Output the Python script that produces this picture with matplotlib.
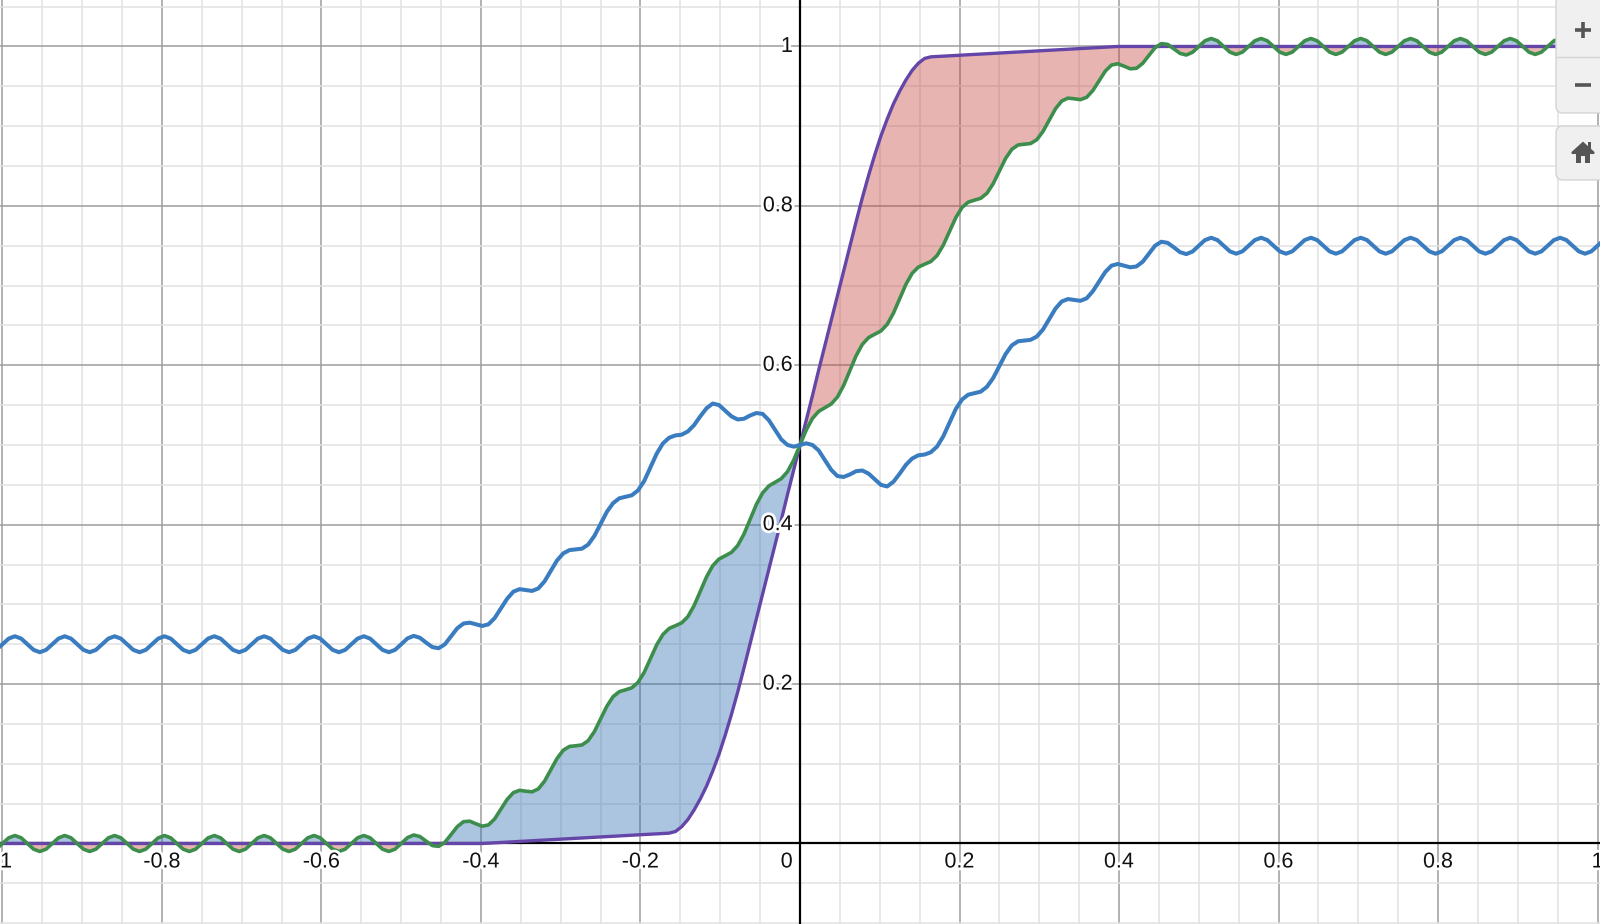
import numpy as np
import matplotlib.pyplot as plt
import matplotlib.patheffects as pe
from matplotlib.patches import FancyBboxPatch, Polygon, Rectangle

# sample positions: x = k/128 for k = -129 .. 129 (8 samples per wiggle period)
xs = np.arange(-129, 130) / 128

# green curve (wavy ramp), one wiggle period per row
green_y = [
    -0.0071,
    0, 0.0071, 0.01, 0.0071, 0, -0.0071, -0.01, -0.0071,
    0, 0.0071, 0.01, 0.0071, 0, -0.0071, -0.01, -0.0071,
    0, 0.0071, 0.01, 0.0071, 0, -0.0071, -0.01, -0.0071,
    0, 0.0071, 0.01, 0.0071, 0, -0.0071, -0.01, -0.0071,
    0, 0.0071, 0.01, 0.0071, 0, -0.0071, -0.01, -0.0071,
    0, 0.0071, 0.01, 0.0071, 0, -0.0071, -0.01, -0.0071,
    0, 0.0071, 0.01, 0.0071, 0, -0.0071, -0.01, -0.0071,
    0, 0.0071, 0.01, 0.0071, 0, -0.0071, -0.01, -0.0071,
    0.0, 0.0073, 0.0107, 0.0087, 0.0029, -0.0026, -0.0036, 0.0015,
    0.0112, 0.0212, 0.0274, 0.0280, 0.0247, 0.0217, 0.0233, 0.0309,
    0.0430, 0.0553, 0.0638, 0.0667, 0.0656, 0.0648, 0.0685, 0.0782,
    0.0923, 0.1066, 0.1170, 0.1218, 0.1226, 0.1236, 0.1290, 0.1404,
    0.1562, 0.1722, 0.1842, 0.1905, 0.1928, 0.1953, 0.2021, 0.2148,
    0.2319, 0.2492, 0.2623, 0.2698, 0.2732, 0.2768, 0.2846, 0.2984,
    0.3164, 0.3345, 0.3486, 0.3569, 0.3610, 0.3653, 0.3738, 0.3881,
    0.4067, 0.4254, 0.4399, 0.4486, 0.4532, 0.4578, 0.4666, 0.4812,
    0.5, 0.5188, 0.5334, 0.5422, 0.5468, 0.5514, 0.5601, 0.5746,
    0.5933, 0.6119, 0.6262, 0.6347, 0.6390, 0.6431, 0.6514, 0.6655,
    0.6836, 0.7016, 0.7154, 0.7232, 0.7268, 0.7302, 0.7377, 0.7508,
    0.7681, 0.7852, 0.7979, 0.8047, 0.8072, 0.8095, 0.8158, 0.8278,
    0.8438, 0.8596, 0.8710, 0.8764, 0.8774, 0.8782, 0.8830, 0.8934,
    0.9077, 0.9218, 0.9315, 0.9352, 0.9344, 0.9333, 0.9362, 0.9447,
    0.9570, 0.9691, 0.9767, 0.9783, 0.9753, 0.9720, 0.9726, 0.9788,
    0.9888, 0.9985, 1.0036, 1.0026, 0.9971, 0.9913, 0.9893, 0.9927,
    1.0, 1.0071, 1.01, 1.0071, 1.0, 0.9929, 0.99, 0.9929,
    1.0, 1.0071, 1.01, 1.0071, 1.0, 0.9929, 0.99, 0.9929,
    1.0, 1.0071, 1.01, 1.0071, 1.0, 0.9929, 0.99, 0.9929,
    1.0, 1.0071, 1.01, 1.0071, 1.0, 0.9929, 0.99, 0.9929,
    1.0, 1.0071, 1.01, 1.0071, 1.0, 0.9929, 0.99, 0.9929,
    1.0, 1.0071, 1.01, 1.0071, 1.0, 0.9929, 0.99, 0.9929,
    1.0, 1.0071, 1.01, 1.0071, 1.0, 0.9929, 0.99, 0.9929,
    1.0, 1.0071, 1.01, 1.0071, 1.0, 0.9929, 0.99, 0.9929,
    1.0, 1.0071,
]

# blue curve
blue_y = [
    0.2429,
    0.25, 0.2571, 0.26, 0.2571, 0.25, 0.2429, 0.24, 0.2429,
    0.25, 0.2571, 0.26, 0.2571, 0.25, 0.2429, 0.24, 0.2429,
    0.25, 0.2571, 0.26, 0.2571, 0.25, 0.2429, 0.24, 0.2429,
    0.25, 0.2571, 0.26, 0.2571, 0.25, 0.2429, 0.24, 0.2429,
    0.25, 0.2571, 0.26, 0.2571, 0.25, 0.2429, 0.24, 0.2429,
    0.25, 0.2571, 0.26, 0.2571, 0.25, 0.2429, 0.24, 0.2429,
    0.25, 0.2571, 0.26, 0.2571, 0.25, 0.2429, 0.24, 0.2429,
    0.25, 0.2571, 0.26, 0.2571, 0.25, 0.2429, 0.24, 0.2429,
    0.25, 0.2573, 0.2605, 0.2581, 0.252, 0.2464, 0.245, 0.2499,
    0.26, 0.2701, 0.276, 0.2771, 0.275, 0.2729, 0.275, 0.2829,
    0.295, 0.3071, 0.316, 0.3191, 0.318, 0.3169, 0.320, 0.3289,
    0.342, 0.3551, 0.364, 0.3681, 0.369, 0.3699, 0.375, 0.3859,
    0.401, 0.4161, 0.427, 0.4331, 0.435, 0.4369, 0.443, 0.4549,
    0.472, 0.4891, 0.502, 0.5091, 0.512, 0.5129, 0.517, 0.5249,
    0.536, 0.5461, 0.552, 0.5501, 0.543, 0.5359, 0.532, 0.5329,
    0.537, 0.5401, 0.539, 0.5311, 0.519, 0.5069, 0.500, 0.4979,
    0.5, 0.5021, 0.500, 0.4931, 0.481, 0.4689, 0.461, 0.4599,
    0.463, 0.4671, 0.468, 0.4641, 0.457, 0.4499, 0.448, 0.4539,
    0.464, 0.4751, 0.483, 0.4871, 0.488, 0.4909, 0.498, 0.5109,
    0.528, 0.5451, 0.557, 0.5631, 0.565, 0.5669, 0.573, 0.5839,
    0.599, 0.6141, 0.625, 0.6301, 0.631, 0.6319, 0.636, 0.6449,
    0.658, 0.6711, 0.680, 0.6831, 0.682, 0.6809, 0.684, 0.6929,
    0.705, 0.7171, 0.725, 0.7271, 0.725, 0.7229, 0.724, 0.7299,
    0.740, 0.7501, 0.755, 0.7536, 0.748, 0.7419, 0.7395, 0.7427,
    0.75, 0.7571, 0.76, 0.7571, 0.75, 0.7429, 0.74, 0.7429,
    0.75, 0.7571, 0.76, 0.7571, 0.75, 0.7429, 0.74, 0.7429,
    0.75, 0.7571, 0.76, 0.7571, 0.75, 0.7429, 0.74, 0.7429,
    0.75, 0.7571, 0.76, 0.7571, 0.75, 0.7429, 0.74, 0.7429,
    0.75, 0.7571, 0.76, 0.7571, 0.75, 0.7429, 0.74, 0.7429,
    0.75, 0.7571, 0.76, 0.7571, 0.75, 0.7429, 0.74, 0.7429,
    0.75, 0.7571, 0.76, 0.7571, 0.75, 0.7429, 0.74, 0.7429,
    0.75, 0.7571, 0.76, 0.7571, 0.75, 0.7429, 0.74, 0.7429,
    0.75, 0.7571,
]

# purple curve (smooth step)
purple_y = [
    0,
    0, 0, 0, 0, 0, 0, 0, 0,
    0, 0, 0, 0, 0, 0, 0, 0,
    0, 0, 0, 0, 0, 0, 0, 0,
    0, 0, 0, 0, 0, 0, 0, 0,
    0, 0, 0, 0, 0, 0, 0, 0,
    0, 0, 0, 0, 0, 0, 0, 0,
    0, 0, 0, 0, 0, 0, 0, 0,
    0, 0, 0, 0, 0, 0, 0, 0,
    0, 0, 0, 0, 0, 0, 0, 0,
    0, 0, 0, 0, 0, 0, 0.0004, 0.0009,
    0.0013, 0.0017, 0.0022, 0.0026, 0.0030, 0.0035, 0.0039, 0.0043,
    0.0048, 0.0052, 0.0056, 0.0061, 0.0065, 0.0069, 0.0074, 0.0078,
    0.0082, 0.0087, 0.0091, 0.0095, 0.0100, 0.0104, 0.0108, 0.0113,
    0.0117, 0.0121, 0.0126, 0.013, 0.015, 0.021, 0.030, 0.042,
    0.056, 0.072, 0.091, 0.112, 0.136, 0.162, 0.190, 0.220,
    0.251, 0.282, 0.313, 0.344, 0.375, 0.406, 0.438, 0.469,
    0.5, 0.531, 0.562, 0.594, 0.625, 0.656, 0.687, 0.718,
    0.749, 0.780, 0.810, 0.838, 0.864, 0.888, 0.909, 0.928,
    0.944, 0.958, 0.970, 0.979, 0.985, 0.987, 0.9874, 0.9879,
    0.9883, 0.9887, 0.9892, 0.9896, 0.9900, 0.9905, 0.9909, 0.9913,
    0.9918, 0.9922, 0.9926, 0.9931, 0.9935, 0.9939, 0.9944, 0.9948,
    0.9952, 0.9957, 0.9961, 0.9965, 0.9970, 0.9974, 0.9978, 0.9983,
    0.9987, 0.9991, 0.9996, 1, 1, 1, 1, 1,
    1, 1, 1, 1, 1, 1, 1, 1,
    1, 1, 1, 1, 1, 1, 1, 1,
    1, 1, 1, 1, 1, 1, 1, 1,
    1, 1, 1, 1, 1, 1, 1, 1,
    1, 1, 1, 1, 1, 1, 1, 1,
    1, 1, 1, 1, 1, 1, 1, 1,
    1, 1, 1, 1, 1, 1, 1, 1,
    1, 1, 1, 1, 1, 1, 1, 1,
    1, 1, 1, 1, 1, 1, 1, 1,
    1, 1,
]

x_labels = ['-1', '-0.8', '-0.6', '-0.4', '-0.2', '0.2', '0.4', '0.6', '0.8', '1']
x_label_pos = [-1, -0.8, -0.6, -0.4, -0.2, 0.2, 0.4, 0.6, 0.8, 1]
y_labels = ['0.2', '0.4', '0.6', '0.8', '1']
y_label_pos = [0.2, 0.4, 0.6, 0.8, 1.0]

green = np.array(green_y)
blue = np.array(blue_y)
purple = np.array(purple_y)

plt.rcParams['font.family'] = ['Liberation Sans', 'DejaVu Sans']

fig = plt.figure(figsize=(16, 9.24), dpi=100)
ax = fig.add_axes([0, 0, 1, 1])
ax.set_xlim(-1.0031, 1.0031)
ax.set_ylim(-0.1010, 1.0583)

# grid
ax.set_xticks(np.arange(-1, 1.01, 0.2))
ax.set_xticks(np.arange(-1, 1.01, 0.05), minor=True)
ax.set_yticks(np.arange(0, 1.01, 0.2))
ax.set_yticks(np.arange(-0.1, 1.06, 0.05), minor=True)
ax.grid(which='major', color='#9c9c9c', lw=1.1)
ax.grid(which='minor', color='#e2e2e2', lw=1.1)
ax.set_axisbelow(True)
ax.tick_params(which='both', length=0, labelbottom=False, labelleft=False)
for s in ax.spines.values():
    s.set_visible(False)
ax.axhline(0, color='black', lw=1.6, zorder=1)
ax.axvline(0, color='black', lw=1.6, zorder=1)

# shaded regions between green and purple
ax.fill_between(xs, purple, green, where=green >= purple, interpolate=True,
                color='#2d70b3', alpha=0.4, lw=0, zorder=2)
ax.fill_between(xs, purple, green, where=green < purple, interpolate=True,
                color='#c74440', alpha=0.4, lw=0, zorder=2)

ax.plot(xs, purple, color='#6446a8', lw=2.4, zorder=3, solid_capstyle='round')
ax.plot(xs, green, color='#3d8e4c', lw=2.6, zorder=4, solid_capstyle='round')
ax.plot(xs, blue, color='#3a7cc0', lw=2.9, zorder=5, solid_capstyle='round')

# tick labels, Desmos style with white halo
halo = [pe.withStroke(linewidth=4, foreground='white')]
fs = 15.5
for p, t in zip(x_label_pos, x_labels):
    ax.text(p, -0.0232, t, ha='center', va='center', fontsize=fs,
            color='#111111', path_effects=halo, zorder=6)
ax.text(-0.009, -0.0232, '0', ha='right', va='center', fontsize=fs,
        color='#111111', path_effects=halo, zorder=6)
for p, t in zip(y_label_pos, y_labels):
    ax.text(-0.009, p, t, ha='right', va='center', fontsize=fs,
            color='#111111', path_effects=halo, zorder=6)

# zoom buttons in the corner
ui = fig.add_axes([0, 0, 1, 1], zorder=10)
ui.set_xlim(0, 1600)
ui.set_ylim(924, 0)
ui.axis('off')
ui.patch.set_alpha(0)
ui.add_patch(FancyBboxPatch((1556, -10), 60, 123, boxstyle='round,pad=0,rounding_size=7',
                            fc='#f0f0f0', ec='#d4d4d4', lw=1))
ui.plot([1556, 1600], [56.5, 56.5], color='#d4d4d4', lw=1)
ui.add_patch(FancyBboxPatch((1556, 126), 60, 54, boxstyle='round,pad=0,rounding_size=7',
                            fc='#f0f0f0', ec='#d4d4d4', lw=1))
icon = '#555555'
ui.plot([1575, 1591], [30, 30], color=icon, lw=2.6, solid_capstyle='butt')
ui.plot([1583, 1583], [22, 38], color=icon, lw=2.6, solid_capstyle='butt')
ui.plot([1575, 1591], [85, 85], color=icon, lw=2.6, solid_capstyle='butt')
ui.add_patch(Polygon([(1572, 153), (1583, 143), (1594, 153)], closed=True,
                     fc=icon, ec=icon, lw=1.5, joinstyle='miter'))
ui.add_patch(Rectangle((1588, 142), 3, 7, fc=icon, ec='none'))
ui.add_patch(Rectangle((1576, 152), 14, 11, fc=icon, ec='none'))
ui.add_patch(Rectangle((1581, 156), 4, 7, fc='#f0f0f0', ec='none'))

fig.savefig('out.png', dpi=100)
